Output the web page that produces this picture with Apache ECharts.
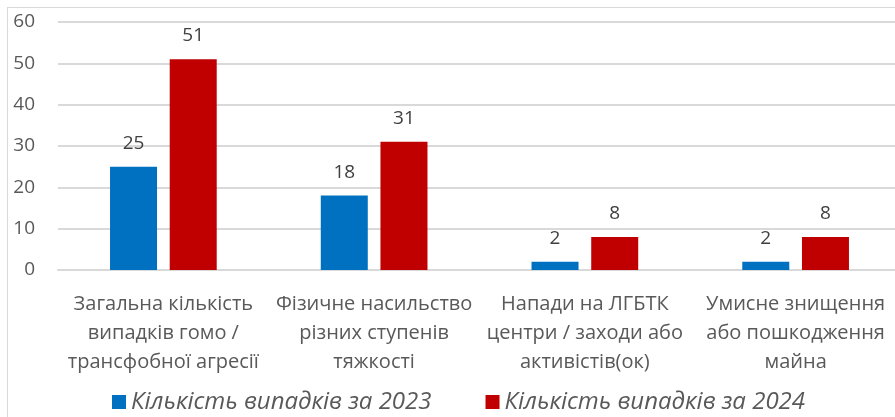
<!DOCTYPE html>
<html>
<head>
<meta charset="utf-8">
<script src="https://cdn.jsdelivr.net/npm/echarts@6/dist/echarts.min.js"></script>
<style>
	html, body { margin: 0; padding: 0; background: #fff; overflow: hidden; }
	#frame {
		position: absolute; left: 7px; top: 7px; width: 1000px; height: 1000px;
		border: 1px solid #d9d9d9; box-sizing: border-box;
	}
	/* область графіка виходить за правий край, як в оригіналі */
	#chart { position: absolute; left: 0; top: 0; width: 901px; height: 417px; }
</style>
</head>
<body>
<div id="frame"></div>
<div id="chart"></div>
<script>
	// категорії та значення
	var categories = [
		'Загальна кількість\nвипадків гомо /\nтрансфобної агресії',
		'Фізичне насильство\nрізних ступенів\nтяжкості',
		'Напади на ЛГБТК\nцентри / заходи або\nактивістів(ок)',
		'Умисне знищення\nабо пошкодження\nмайна'
	];
	var seriesNames = ['Кількість випадків за 2023', 'Кількість випадків за 2024'];
	var values2023 = [25, 18, 2, 2];
	var values2024 = [51, 31, 8, 8];

	var font = 'Open Sans';
	var textColor = '#595959';

	var myChart = echarts.init(document.getElementById('chart'));
	var labelStyle = {
		show: true,
		position: 'top',
		distance: 14,
		color: '#404040',
		fontSize: 19,
		fontFamily: font
	};
	var option = {
		animation: false,
		grid: {
			left: 58,
			top: 22,
			right: 0,
			bottom: 147
		},
		legend: {
			left: 107,
			top: 385,
			itemWidth: 14,
			itemHeight: 14,
			itemGap: 54,
			icon: 'rect',
			textStyle: {
				fontFamily: font,
				fontStyle: 'italic',
				fontSize: 24,
				color: textColor
			},
			data: seriesNames
		},
		xAxis: {
			type: 'category',
			data: categories,
			axisLine: { lineStyle: { color: '#d9d9d9', width: 2 } },
			axisTick: { show: false },
			axisLabel: {
				interval: 0,
				margin: 20,
				lineHeight: 29,
				fontSize: 20,
				fontFamily: font,
				color: textColor
			}
		},
		yAxis: {
			type: 'value',
			min: 0,
			max: 60,
			interval: 10,
			axisLine: { show: false },
			axisTick: { show: false },
			splitLine: { lineStyle: { color: '#d9d9d9', width: 2 } },
			axisLabel: {
				margin: 23,
				fontSize: 19,
				fontFamily: font,
				color: textColor
			}
		},
		series: [{
			name: seriesNames[0],
			type: 'bar',
			barWidth: 47,
			barGap: '27%',
			itemStyle: { color: '#0070c0' },
			label: labelStyle,
			data: values2023
		}, {
			name: seriesNames[1],
			type: 'bar',
			barWidth: 47,
			itemStyle: { color: '#c00000' },
			label: labelStyle,
			data: values2024
		}]
	};
	myChart.setOption(option);
</script>
</body>
</html>
